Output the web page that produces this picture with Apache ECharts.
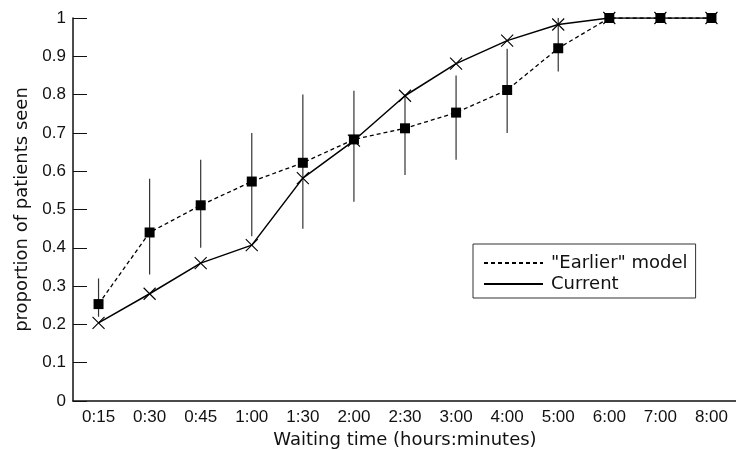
<!DOCTYPE html>
<html>
<head>
<meta charset="utf-8">
<script src="https://cdn.jsdelivr.net/npm/echarts@6/dist/echarts.min.js"></script>
<style>html,body{margin:0;padding:0;background:#fff}#c{width:736px;height:450px}</style>
</head>
<body>
<div id="c"></div>
<script>
var categories = ['0:15','0:30','0:45','1:00','1:30','2:00','2:30','3:00','4:00','5:00','6:00','7:00','8:00'];
var earlier = [0.253,0.44,0.511,0.573,0.622,0.683,0.712,0.753,0.812,0.921,1,1,1];
var earlierLow = [0.22,0.33,0.40,0.43,0.45,0.52,0.59,0.63,0.70,0.86,null,null,null];
var earlierHigh = [0.32,0.58,0.63,0.70,0.80,0.81,0.80,0.85,0.92,1.0,null,null,null];
var current = [0.204,0.28,0.36,0.407,0.582,0.68,0.797,0.881,0.941,0.983,1,1,1];
var yTicks = [0,0.1,0.2,0.3,0.4,0.5,0.6,0.7,0.8,0.9,1];

var errData = [];
for (var i = 0; i < categories.length; i++) {
  if (earlierLow[i] != null) errData.push([i, earlierLow[i], earlierHigh[i]]);
}
var ink = '#111';
var chart = echarts.init(document.getElementById('c'), null, {renderer: 'canvas'});
chart.setOption({
  animation: false,
  backgroundColor: '#fff',
  grid: {left: 73, top: 18, width: 664, height: 383, containLabel: false, outerBoundsMode: 'none'},
  legend: {
    orient: 'vertical', left: 473, top: 244,
    padding: [10, 8, 5, 10], itemGap: 3, itemWidth: 59, itemHeight: 18,
    borderColor: '#333', borderWidth: 1,
    itemStyle: {color: 'rgba(0,0,0,0)', borderWidth: 0, opacity: 0},
    textStyle: {fontFamily: 'DejaVu Sans', fontSize: 18, color: ink, padding: [0,0,0,3]},
    data: ['"Earlier" model', 'Current']
  },
  xAxis: {
    type: 'category', data: categories, boundaryGap: true,
    axisLine: {lineStyle: {color: ink, width: 1.5}},
    axisTick: {inside: true, length: 14, interval: 0, lineStyle: {color: ink, width: 1}},
    axisLabel: {interval: 0, margin: 8, color: ink, fontFamily: 'Liberation Sans', fontSize: 17},
    splitLine: {show: false},
    name: 'Waiting time (hours:minutes)', nameLocation: 'middle', nameGap: 30,
    nameTextStyle: {fontFamily: 'DejaVu Sans', fontSize: 18, color: ink}
  },
  yAxis: {
    type: 'value', min: 0, max: 1, interval: 0.1,
    axisLine: {show: true, lineStyle: {color: ink, width: 1.5}},
    axisTick: {show: true, inside: true, length: 14, lineStyle: {color: ink, width: 1}},
    axisLabel: {margin: 7, color: ink, fontFamily: 'Liberation Sans', fontSize: 17,
      formatter: function (v) { var k = yTicks.indexOf(Math.round(v*10)/10); return k >= 0 ? String(yTicks[k]) : ''; }},
    splitLine: {show: false},
    name: 'proportion of patients seen', nameLocation: 'middle', nameGap: 40,
    nameTextStyle: {fontFamily: 'DejaVu Sans', fontSize: 18, color: ink}
  },
  series: [
    {
      type: 'custom', name: 'err', z: 1, silent: true,
      data: errData,
      renderItem: function (params, api) {
        var p1 = api.coord([api.value(0), api.value(1)]);
        var p2 = api.coord([api.value(0), api.value(2)]);
        return {type: 'line', shape: {x1: p1[0], y1: p1[1], x2: p2[0], y2: p2[1]},
          style: {stroke: '#333', lineWidth: 1.2}};
      },
      encode: {x: 0, y: [1, 2]}
    },
    {
      type: 'line', name: '"Earlier" model', data: earlier, symbol: 'none', z: 2,
      lineStyle: {color: '#000', width: 1.3, type: [4, 3]}, itemStyle: {color: '#000'}
    },
    {
      type: 'line', name: 'Current', data: current, symbol: 'none', z: 2,
      lineStyle: {color: '#000', width: 1.5}, itemStyle: {color: '#000'}
    },
    {
      type: 'scatter', name: 'currentMarks', data: current, z: 3,
      symbol: 'path://M0 0L10 10M10 0L0 10', symbolSize: 12,
      itemStyle: {color: 'rgba(0,0,0,0)', borderColor: '#000', borderWidth: 1.1, opacity: 1}
    },
    {
      type: 'scatter', name: 'earlierMarks', data: earlier, z: 4,
      symbol: 'rect', symbolSize: 10, itemStyle: {color: '#000', opacity: 1}
    }
  ]
});
</script>
</body>
</html>
